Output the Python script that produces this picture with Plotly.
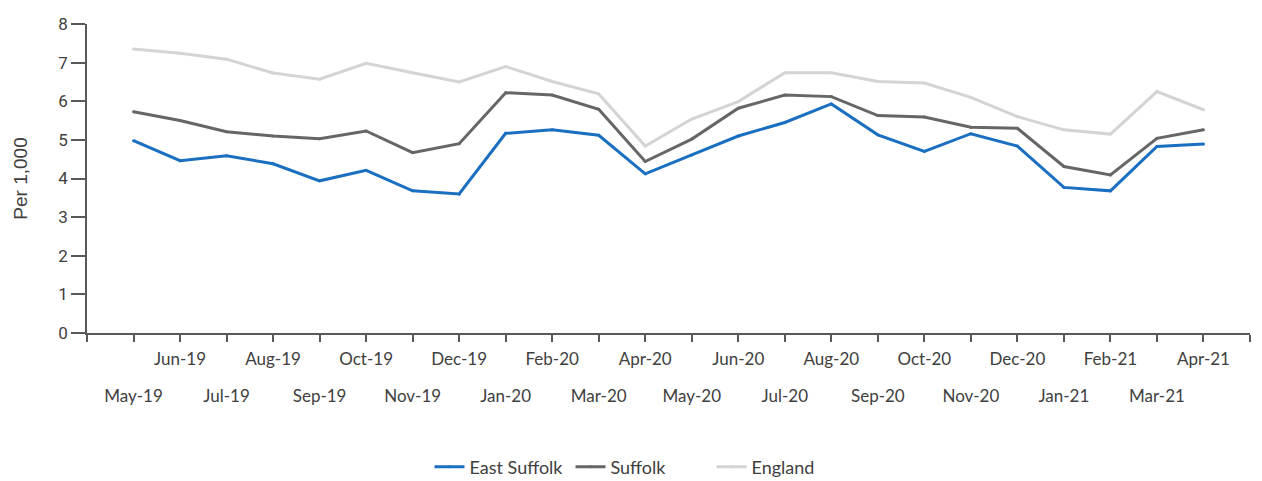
import plotly.graph_objects as go

months = ["May-19", "Jun-19", "Jul-19", "Aug-19", "Sep-19", "Oct-19", "Nov-19", "Dec-19",
          "Jan-20", "Feb-20", "Mar-20", "Apr-20", "May-20", "Jun-20", "Jul-20", "Aug-20",
          "Sep-20", "Oct-20", "Nov-20", "Dec-20", "Jan-21", "Feb-21", "Mar-21", "Apr-21"]

east_suffolk = [4.98, 4.46, 4.59, 4.38, 3.94, 4.21, 3.68, 3.60,
                5.17, 5.26, 5.12, 4.12, 4.61, 5.10, 5.45, 5.93,
                5.13, 4.70, 5.16, 4.84, 3.77, 3.68, 4.83, 4.89]

suffolk = [5.73, 5.50, 5.21, 5.10, 5.03, 5.23, 4.67, 4.90,
           6.22, 6.16, 5.79, 4.44, 5.02, 5.82, 6.16, 6.12,
           5.63, 5.59, 5.33, 5.30, 4.31, 4.09, 5.04, 5.26]

england = [7.35, 7.24, 7.09, 6.73, 6.57, 6.98, 6.74, 6.50,
           6.90, 6.51, 6.19, 4.84, 5.54, 5.99, 6.74, 6.74,
           6.51, 6.47, 6.10, 5.60, 5.26, 5.15, 6.25, 5.78]

y_ticks = [0, 1, 2, 3, 4, 5, 6, 7, 8]

series = [("England", england, "#d4d4d4", "x"),
          ("Suffolk", suffolk, "#666666", "x"),
          ("East Suffolk", east_suffolk, "#1a6fc0", "x2")]
rank = {"East Suffolk": 1, "Suffolk": 2, "England": 3}

idx = list(range(len(months)))
fig = go.Figure()
for name, vals, col, xa in series:
    fig.add_trace(go.Scatter(x=idx, y=vals, name=name, mode="lines+markers",
                             xaxis=xa, yaxis="y",
                             line=dict(color=col, width=3),
                             marker=dict(color=col, size=3),
                             legendrank=rank[name]))

axis_col = "#595959"
label_font = dict(family="Lato, Calibri, sans-serif", size=17, color="#404040")
num_font = dict(family="Liberation Sans Narrow, Arial Narrow, Roboto, sans-serif", size=17, color="#404040")

tickvals_main = list(range(-1, len(months) + 1))
ticktext_main = [months[i] if (0 <= i < len(months) and i % 2 == 1) else "" for i in tickvals_main]

# page body has an 8px default margin, so the figure is 8px smaller and margins compensated
fig.update_layout(
    width=1254, height=473,
    margin=dict(l=79, r=12, t=16, b=148, autoexpand=False),
    paper_bgcolor="white", plot_bgcolor="white",
    showlegend=True,
    legend=dict(orientation="h", x=0.2945, xanchor="left", y=-0.434, yanchor="middle",
                font=dict(family="Lato, Calibri, sans-serif", size=18, color="#404040"),
                itemwidth=30, traceorder="normal", entrywidth=96),
    xaxis=dict(range=[-1, len(months)], tickmode="array", tickvals=tickvals_main,
               ticktext=ticktext_main, showline=True, linecolor=axis_col, linewidth=1.5,
               ticks="outside", ticklen=7, tickcolor=axis_col, tickwidth=1.5,
               showgrid=False, zeroline=False, tickfont=label_font, tickangle=0,
               ticklabelstandoff=3, automargin=False),
    xaxis2=dict(range=[-1, len(months)], overlaying="x", anchor="y", side="bottom",
                tickmode="array", tickvals=[i for i in idx if i % 2 == 0],
                ticktext=[months[i] for i in idx if i % 2 == 0],
                showline=False, ticks="", showgrid=False, zeroline=False,
                tickfont=label_font, tickangle=0, ticklabelstandoff=51, automargin=False),
    yaxis=dict(range=[0, 8], tickmode="array", tickvals=y_ticks, showline=True,
               linecolor=axis_col, linewidth=1.5, ticks="outside", ticklen=14,
               tickcolor=axis_col, tickwidth=1.5, showgrid=False, zeroline=False,
               tickfont=num_font, automargin=False,
               title=dict(text="Per 1,000", font=dict(family="Liberation Sans, Arial, sans-serif", size=19, color="#404040"),
                          standoff=26)),
)

fig.write_html("out.html")
